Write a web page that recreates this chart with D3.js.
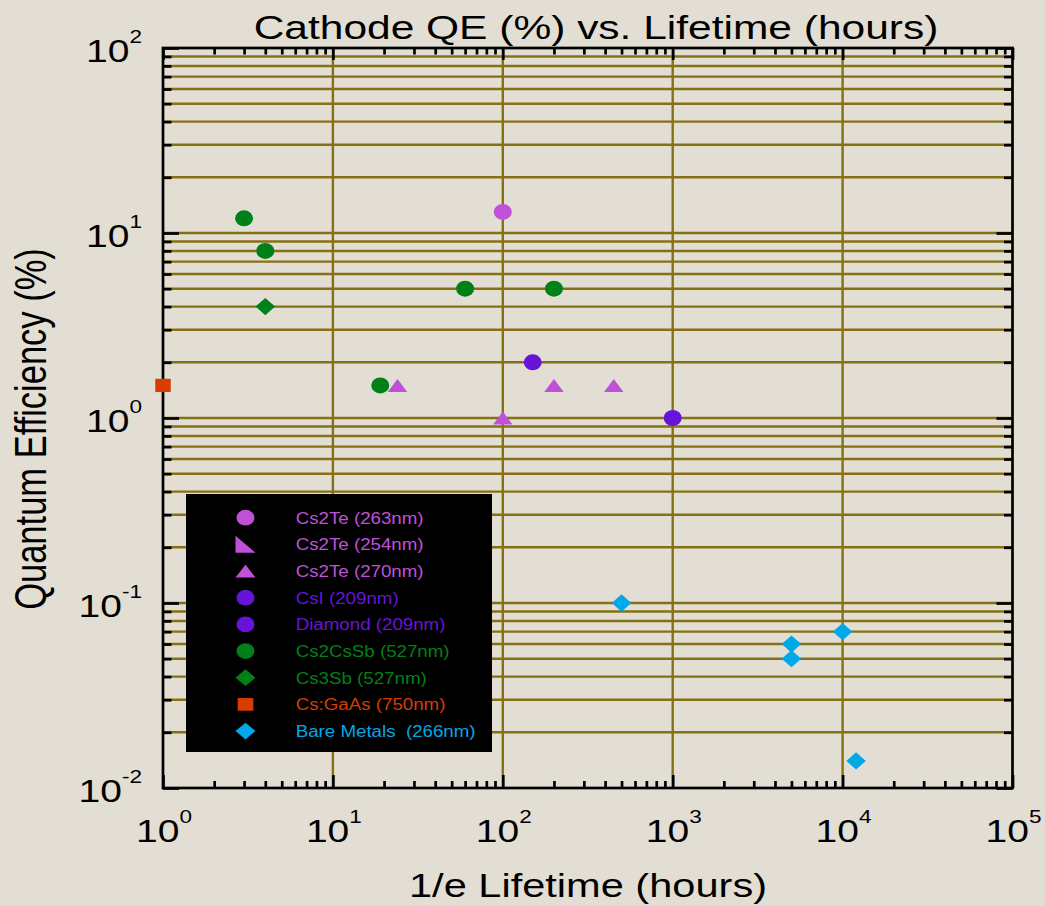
<!DOCTYPE html>
<html><head><meta charset="utf-8">
<script src="https://cdn.jsdelivr.net/npm/d3@7"></script>
<style>html,body{margin:0;padding:0;background:#e3ded3;}svg{display:block;}</style>
</head><body>
<script>
// ---------- data ----------
const seriesNames = ["Cs2Te (263nm)","Cs2Te (254nm)","Cs2Te (270nm)","CsI (209nm)","Diamond (209nm)","Cs2CsSb (527nm)","Cs3Sb (527nm)","Cs:GaAs (750nm)","Bare Metals  (266nm)"];
const cs2te263X = [100];            const cs2te263Y = [13];
const cs2te254X = [];               const cs2te254Y = [];
const cs2te270X = [24, 100, 200, 450]; const cs2te270Y = [1.5, 1.0, 1.5, 1.5];
const csiX = [150];                 const csiY = [2];
const diamondX = [1000];            const diamondY = [1];
const cs2cssbX = [3, 4, 60, 19, 200]; const cs2cssbY = [12, 8, 5, 1.5, 5];
const cs3sbX = [4];                 const cs3sbY = [4];
const csgaasX = [1];                const csgaasY = [1.5];
const bareX = [500, 5000, 5000, 10000, 12000]; const bareY = [0.1, 0.06, 0.05, 0.07, 0.014];
const xTickExponents = [0,1,2,3,4,5];
const yTickExponents = [-2,-1,0,1,2];
const titleText = "Cathode QE (%) vs. Lifetime (hours)";
const xTitleText = "1/e Lifetime (hours)";
const yTitleText = "Quantum Efficiency (%)";

// ---------- styles ----------
const seriesX = [cs2te263X,cs2te254X,cs2te270X,csiX,diamondX,cs2cssbX,cs3sbX,csgaasX,bareX];
const seriesY = [cs2te263Y,cs2te254Y,cs2te270Y,csiY,diamondY,cs2cssbY,cs3sbY,csgaasY,bareY];
const seriesShape = ["circle","righttri","triangle","circle","circle","circle","diamond","square","diamond"];
const seriesColor = ["#c050d8","#c050d8","#c050d8","#6814d8","#6814d8","#008018","#008018","#d83c00","#00a8e8"];
const shapeSize = {circle:[18,16], triangle:[19.5,13], righttri:[20,17], diamond:[19.5,17.3], square:[15.5,13.3]};
const legendShapeSize = {circle:[18,15.7], triangle:[20,12.7], righttri:[20,17], diamond:[20,16.7], square:[15.7,12.7]};

const W = 1045, H = 906;
const FONT = "'Liberation Sans', Arial, Helvetica, sans-serif";
const SX = 1.26;
const gridColor = "#857014";

const svg = d3.select("body").append("svg").attr("width", W).attr("height", H);
svg.append("rect").attr("width", W).attr("height", H).attr("fill", "#e3ded3");

const x = d3.scaleLog().domain([1, 1e5]).range([163, 1012.5]);
const y = d3.scaleLog().domain([0.01, 100]).range([788, 48]);

function minorVals(d0, d1) {
  const out = [];
  for (let d = d0; d < d1; d++) for (let m = 2; m <= 9; m++) out.push(m * Math.pow(10, d));
  return out;
}
const xMajor = xTickExponents.map(e => Math.pow(10, e));
const yMajor = yTickExponents.map(e => Math.pow(10, e));
const xMinor = minorVals(0, 5);
const yMinor = minorVals(-2, 2);

// ---------- grid ----------
const grid = svg.append("g");
const hVals = yMinor.concat(yMajor.filter(v => v > 0.01 && v < 100));
grid.selectAll("line.h").data(hVals).join("line")
  .attr("x1", x(1)).attr("x2", x(1e5)).attr("y1", d => y(d)).attr("y2", d => y(d))
  .attr("stroke", gridColor).attr("stroke-width", 2.4);
grid.selectAll("line.v").data(xMajor.filter(v => v > 1 && v < 1e5)).join("line")
  .attr("y1", y(100)).attr("y2", y(0.01)).attr("x1", d => x(d)).attr("x2", d => x(d))
  .attr("stroke", gridColor).attr("stroke-width", 2.4);

// ---------- legend box ----------
svg.append("rect").attr("x", 186).attr("y", 494).attr("width", 306).attr("height", 258).attr("fill", "#000");

// ---------- axes (ticks) ----------
function styleAxis(g) {
  g.select(".domain").remove();
  g.selectAll(".tick line").attr("stroke", "#000").attr("stroke-width", 2.7);
  g.selectAll(".tick text").remove();
}
const axes = [
  [d3.axisLeft(y).tickValues(yMajor).tickSize(-16), `translate(${x(1)},0)`],
  [d3.axisLeft(y).tickValues(yMinor).tickSize(-8.5), `translate(${x(1)},0)`],
  [d3.axisRight(y).tickValues(yMajor).tickSize(-16), `translate(${x(1e5)},0)`],
  [d3.axisRight(y).tickValues(yMinor).tickSize(-8.5), `translate(${x(1e5)},0)`],
  [d3.axisBottom(x).tickValues(xMajor).tickSize(-13), `translate(0,${y(0.01)})`],
  [d3.axisBottom(x).tickValues(xMinor).tickSize(-7), `translate(0,${y(0.01)})`],
  [d3.axisTop(x).tickValues(xMajor).tickSize(-12), `translate(0,${y(100)})`],
  [d3.axisTop(x).tickValues(xMinor).tickSize(-6.5), `translate(0,${y(100)})`]
];
axes.forEach(([ax, tr]) => svg.append("g").attr("transform", tr).call(ax.tickFormat("")).call(styleAxis));

svg.append("rect").attr("x", x(1)).attr("y", y(100)).attr("width", x(1e5) - x(1)).attr("height", y(0.01) - y(100))
  .attr("fill", "none").attr("stroke", "#000").attr("stroke-width", 2.7);

// ---------- tick labels ----------
function expLabel(g, e, anchor) {
  const t = g.append("text").attr("font-family", FONT).attr("fill", "#000").attr("text-anchor", anchor);
  t.append("tspan").attr("font-size", 32).text("10");
  t.append("tspan").attr("font-size", 18.5).attr("dy", -19).text(e < 0 ? "-" + Math.abs(e) : String(e));
}
xTickExponents.forEach(e => {
  const g = svg.append("g").attr("transform", `translate(${x(Math.pow(10, e)) + 1},842) scale(1.22,1)`);
  expLabel(g, e, "middle");
});
yTickExponents.forEach(e => {
  const g = svg.append("g").attr("transform", `translate(142,${y(Math.pow(10, e)) + 13.5}) scale(1.22,1)`);
  expLabel(g, e, "end");
});

// ---------- titles ----------
svg.append("g").attr("transform", `translate(596,39) scale(1.25,1)`)
  .append("text").attr("text-anchor", "middle").attr("font-family", FONT).attr("font-size", 34).attr("fill", "#000").text(titleText);
svg.append("g").attr("transform", `translate(588,897) scale(${SX},1)`)
  .append("text").attr("text-anchor", "middle").attr("font-family", FONT).attr("font-size", 33).attr("fill", "#000").text(xTitleText);
svg.append("g").attr("transform", `translate(46,429) scale(${SX},1) rotate(-90)`)
  .append("text").attr("text-anchor", "middle").attr("font-family", FONT).attr("font-size", 34.5).attr("fill", "#000").text(yTitleText);

// ---------- markers ----------
function unitShape(type) {
  const p = d3.path();
  if (type === "circle") { p.moveTo(1, 0); p.arc(0, 0, 1, 0, 2 * Math.PI); }
  else if (type === "triangle") { p.moveTo(0, -1); p.lineTo(1, 1); p.lineTo(-1, 1); p.closePath(); }
  else if (type === "righttri") { p.moveTo(-1, -1); p.lineTo(1, 1); p.lineTo(-1, 1); p.closePath(); }
  else if (type === "diamond") { p.moveTo(0, -1); p.lineTo(1, 0); p.lineTo(0, 1); p.lineTo(-1, 0); p.closePath(); }
  else if (type === "square") { p.rect(-1, -1, 2, 2); }
  return p.toString();
}
const marks = svg.append("g");
seriesNames.forEach((name, i) => {
  const pts = seriesX[i].map((xv, j) => [xv, seriesY[i][j]]);
  const [w, h] = shapeSize[seriesShape[i]];
  marks.selectAll(null).data(pts).join("path")
    .attr("d", unitShape(seriesShape[i]))
    .attr("transform", d => `translate(${x(d[0])},${y(d[1])}) scale(${w / 2},${h / 2})`)
    .attr("fill", seriesColor[i]);
});

// ---------- legend entries ----------
const leg = svg.append("g");
seriesNames.forEach((name, i) => {
  const cy = 517.7 + i * 26.67;
  const [w, h] = legendShapeSize[seriesShape[i]];
  leg.append("path").attr("d", unitShape(seriesShape[i]))
    .attr("transform", `translate(245.5,${cy}) scale(${w / 2},${h / 2})`).attr("fill", seriesColor[i]);
  leg.append("g").attr("transform", `translate(295.7,${cy + 5.8}) scale(1.2,1)`)
    .append("text").attr("font-family", FONT).attr("font-size", 15.6).attr("fill", seriesColor[i])
    .attr("xml:space", "preserve").style("white-space", "pre").text(name);
});
</script>
</body></html>
